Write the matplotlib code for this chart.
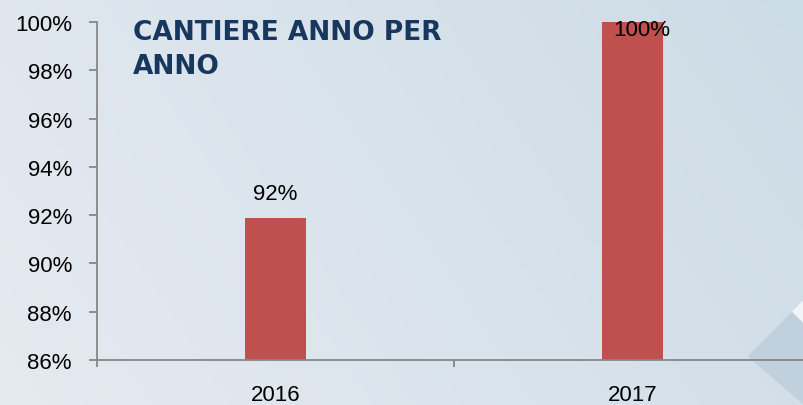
import numpy as np
import matplotlib.pyplot as plt
from matplotlib.patches import Polygon

years = ['2016', '2017']
values = [91.9, 100.0]
labels = ['92%', '100%']
yticks = [86, 88, 90, 92, 94, 96, 98, 100]

fig = plt.figure(figsize=(8.04, 4.06), dpi=100)

# background gradient
bg = fig.add_axes([0, 0, 1, 1])
bg.set_axis_off()
xx, yy = np.meshgrid(np.linspace(0, 1, 200), np.linspace(0, 1, 100))
t = np.clip(0.75 * xx + 0.25 * (1 - yy), 0, 1)
c0 = np.array([0xE6, 0xEA, 0xF1]) / 255
c1 = np.array([0xCC, 0xDC, 0xE6]) / 255
img = c0[None, None, :] * (1 - t[..., None]) + c1[None, None, :] * t[..., None]
bg.imshow(img, extent=[0, 1, 0, 1], origin='upper', aspect='auto')
bg.add_patch(Polygon([[1.0, 0.26], [0.93, 0.12], [1.0, 0.0]], closed=True,
                     facecolor='#B9CAD9', alpha=0.7, edgecolor='none'))
bg.add_patch(Polygon([[1.0, 0.26], [0.985, 0.23], [1.0, 0.20]], closed=True,
                     facecolor='white', alpha=0.8, edgecolor='none'))
bg.set_xlim(0, 1)
bg.set_ylim(0, 1)

ax = fig.add_axes([97 / 804, 45 / 406, 714 / 804, 338 / 406])
ax.patch.set_alpha(0)
x = np.arange(len(years))
ax.bar(x, values, width=0.17, color='#C0504D', bottom=0)
ax.set_xlim(-0.5, 1.5)
ax.set_ylim(86, 100)
ax.set_yticks(yticks)
ax.set_yticklabels([f'{v}%' for v in yticks])
ax.set_xticks(x)
ax.set_xticklabels(years)
ax.set_xticks([-0.5, 0.5, 1.5], minor=True)

for s in ['top', 'right']:
    ax.spines[s].set_visible(False)
for s in ['left', 'bottom']:
    ax.spines[s].set_color('#868686')
    ax.spines[s].set_linewidth(1.3)

ax.tick_params(axis='y', length=6, width=1.3, color='#868686', labelsize=16, pad=12)
ax.tick_params(axis='x', which='major', length=0, labelsize=16, pad=17)
ax.tick_params(axis='x', which='minor', length=5, width=1.3, color='#868686')
for lab in ax.get_xticklabels() + ax.get_yticklabels():
    lab.set_fontfamily('Liberation Sans')

ax.annotate(labels[0], (x[0], values[0]), xytext=(0, 10), textcoords='offset points',
            ha='center', va='bottom', fontsize=16, family='Liberation Sans')
ax.annotate(labels[1], (x[1], values[1]), xytext=(7, 2), textcoords='offset points',
            ha='center', va='top', fontsize=16, family='Liberation Sans')

fig.text(133 / 804, 1 - 20 / 406, 'CANTIERE ANNO PER\nANNO', ha='left', va='top',
         fontsize=19, fontweight='bold', color='#17375E', linespacing=1.4)

fig.savefig('out.png', dpi=100)
